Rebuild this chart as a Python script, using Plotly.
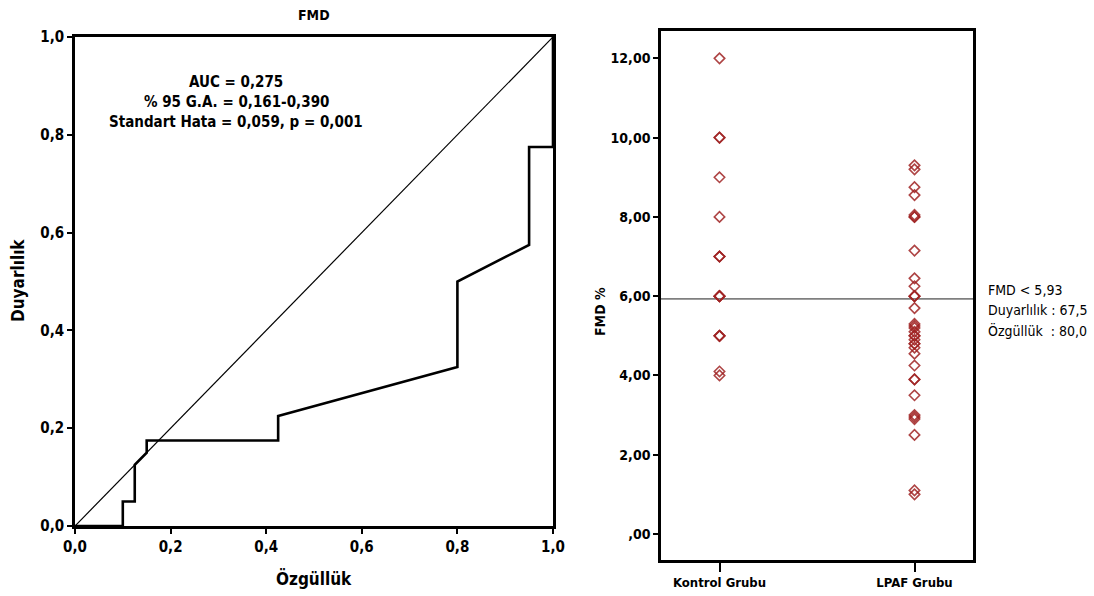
import plotly.graph_objects as go

# ---- Data ----
roc_fpr = [0, 0.1, 0.1, 0.125, 0.125, 0.15, 0.15, 0.425, 0.425, 0.8, 0.8, 0.95, 0.95, 1.0, 1.0]
roc_tpr = [0, 0, 0.05, 0.05, 0.125, 0.15, 0.175, 0.175, 0.225, 0.325, 0.5, 0.575, 0.775, 0.775, 1.0]
ref_x = [0, 1]
ref_y = [0, 1]
roc_ticks = [0, 0.2, 0.4, 0.6, 0.8, 1.0]
roc_ticktext = ["0,0", "0,2", "0,4", "0,6", "0,8", "1,0"]

groups = ["Kontrol Grubu", "LPAF Grubu"]
kontrol_fmd = [12.0, 10.0, 10.0, 9.0, 8.0, 7.0, 7.0, 7.0, 6.0, 6.0, 6.0, 6.0, 5.0, 5.0, 5.0, 4.1, 4.0]
lpaf_fmd = [9.3, 9.2, 8.75, 8.55, 8.05, 8.0, 8.0, 7.15, 6.45, 6.25, 6.0, 6.0, 6.0, 5.7,
            5.3, 5.25, 5.2, 5.1, 5.0, 5.0, 4.9, 4.8, 4.8, 4.7, 4.55, 4.25, 3.9, 3.9, 3.5,
            3.0, 2.95, 2.9, 2.5, 1.1, 1.0]
cutoff = 5.93
fmd_ticks = [0, 2, 4, 6, 8, 10, 12]
fmd_ticktext = [",00", "2,00", "4,00", "6,00", "8,00", "10,00", "12,00"]

FONT = "Liberation Sans Narrow, Arial Narrow, DejaVu Sans Condensed, sans-serif"
W, H = 1094, 596

def px(x):
    return x / W

def py(y):
    return 1 - y / H

fig = go.Figure()

# ROC panel
fig.add_trace(go.Scatter(x=ref_x, y=ref_y, mode="lines",
                         line=dict(color="black", width=1.2),
                         xaxis="x", yaxis="y", showlegend=False, hoverinfo="skip"))
fig.add_trace(go.Scatter(x=roc_fpr, y=roc_tpr, mode="lines",
                         line=dict(color="black", width=2.6),
                         xaxis="x", yaxis="y", showlegend=False))

# Dot plot panel
mk = dict(symbol="diamond-open", size=8, color="rgba(160,35,35,0.85)", line=dict(width=1.6))
fig.add_trace(go.Scatter(x=[-0.3, 1.3], y=[cutoff, cutoff], mode="lines",
                         line=dict(color="#7f7f7f", width=1.8),
                         xaxis="x2", yaxis="y2", showlegend=False, hoverinfo="skip"))
fig.add_trace(go.Scatter(x=[0] * len(kontrol_fmd), y=kontrol_fmd, mode="markers", marker=mk,
                         xaxis="x2", yaxis="y2", showlegend=False))
fig.add_trace(go.Scatter(x=[1] * len(lpaf_fmd), y=lpaf_fmd, mode="markers", marker=mk,
                         xaxis="x2", yaxis="y2", showlegend=False))

axis_common = dict(showline=True, linecolor="black", linewidth=2.5, mirror=True,
                   showgrid=False, zeroline=False, ticks="outside", ticklen=5,
                   tickcolor="black", tickwidth=1.5, automargin=False)

fig.update_layout(
    template="none",
    width=W, height=H, autosize=False,
    margin=dict(l=0, r=0, t=0, b=0, pad=0),
    paper_bgcolor="white", plot_bgcolor="white",
    font=dict(family=FONT, color="black"),
    xaxis=dict(domain=[px(75), px(553)], range=[0, 1], anchor="y",
               tickvals=roc_ticks, ticktext=roc_ticktext,
               tickfont=dict(size=15, family=FONT, weight="bold"), **axis_common),
    yaxis=dict(domain=[py(526), py(37)], range=[0, 1], anchor="x",
               tickvals=roc_ticks, ticktext=roc_ticktext,
               tickfont=dict(size=15, family=FONT, weight="bold"), **axis_common),
    xaxis2=dict(domain=[px(661), px(973)], range=[-0.3, 1.3], anchor="y2",
                tickvals=[0, 1], ticktext=groups,
                tickfont=dict(size=13, family=FONT, weight="bold"),
                **{**axis_common, "ticklen": 9}),
    yaxis2=dict(domain=[py(560), py(31)], range=[-0.656, 12.69], anchor="x2",
                tickvals=fmd_ticks, ticktext=fmd_ticktext,
                tickfont=dict(size=14, family=FONT, weight="bold"), **axis_common),
)

ann = []
def add(text, x, y, size, angle=0, xanchor="center", bold=True):
    ann.append(dict(text=("<b>" + text + "</b>") if bold else text,
                    x=px(x), y=py(y), xref="paper", yref="paper",
                    xanchor=xanchor, yanchor="middle", showarrow=False,
                    textangle=angle, font=dict(size=size, family=FONT, color="black")))

add("FMD", 314, 15, 14)
for i, t in enumerate(["AUC = 0,275", "% 95 G.A. = 0,161-0,390",
                       "Standart Hata = 0,059, p = 0,001"]):
    add(t, 236, 82 + 20 * i, 15)
add("Duyarlılık", 18, 281, 17, angle=-90)
add("Özgüllük", 314, 578, 17)
add("FMD %", 600, 312, 14, angle=-90)
for i, t in enumerate(["FMD < 5,93", "Duyarlılık : 67,5", "Özgüllük  : 80,0"]):
    add(t, 986, 290 + 20 * i, 14, xanchor="left", bold=False)
fig.update_layout(annotations=ann)

fig.write_html("out.html")
